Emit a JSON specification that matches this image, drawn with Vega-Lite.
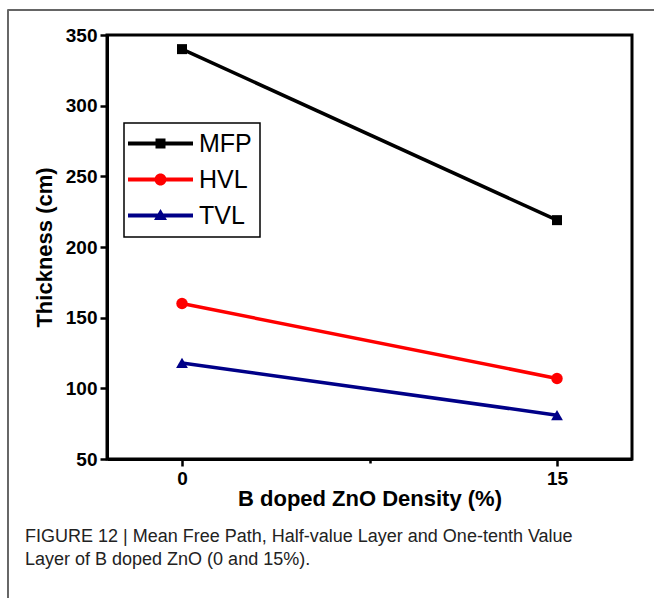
{
  "$schema": "https://vega.github.io/schema/vega-lite/v6.json",
  "autosize": {"type": "none"},
  "width": 525,
  "height": 424,
  "padding": {"left": 107, "top": 35, "right": 22, "bottom": 139},
  "background": "white",
  "title": {
    "text": ["FIGURE 12 | Mean Free Path, Half-value Layer and One-tenth Value", "Layer of B doped ZnO (0 and 15%)."],
    "orient": "bottom",
    "anchor": "start",
    "frame": "group",
    "dx": -82,
    "offset": 0,
    "dy": -73,
    "font": "Liberation Sans",
    "fontSize": 18,
    "fontWeight": "normal",
    "lineHeight": 23,
    "color": "#222222"
  },
  "config": {
    "view": {"stroke": "black", "strokeWidth": 3},
    "axis": {
      "grid": false,
      "domainColor": "black",
      "domainWidth": 3,
      "tickColor": "black",
      "tickWidth": 2.5,
      "labelFont": "Liberation Sans",
      "labelFontWeight": "bold",
      "labelFontSize": 19,
      "labelColor": "black",
      "titleFont": "Liberation Sans",
      "titleFontWeight": "bold",
      "titleFontSize": 22,
      "titleColor": "black"
    },
    "legend": {
      "orient": "none",
      "legendX": 17,
      "legendY": 88,
      "strokeColor": "black",
      "padding": 8,
      "labelFont": "Liberation Sans",
      "labelFontSize": 25,
      "labelColor": "black",
      "labelOffset": 26,
      "symbolOffset": 16,
      "rowPadding": 10,
      "symbolSize": 100
    }
  },
  "data": {
    "values": [
      {"series": "MFP", "x": 0, "y": 340},
      {"series": "MFP", "x": 15, "y": 219},
      {"series": "HVL", "x": 0, "y": 160},
      {"series": "HVL", "x": 15, "y": 107},
      {"series": "TVL", "x": 0, "y": 118},
      {"series": "TVL", "x": 15, "y": 81}
    ]
  },
  "layer": [
    {
      "mark": {"type": "line", "strokeWidth": 3.5},
      "encoding": {
        "x": {
          "field": "x", "type": "quantitative",
          "scale": {"domain": [-3, 18], "nice": false, "zero": false},
          "axis": {
            "title": "B doped ZnO Density (%)",
            "values": [0, 7.5, 15],
            "labelExpr": "datum.value === 7.5 ? '' : datum.label",
            "tickSize": {"condition": {"test": "datum.value === 7.5", "value": 4}, "value": 7},
            "labelPadding": 3,
            "titlePadding": 0
          }
        },
        "y": {
          "field": "y", "type": "quantitative",
          "scale": {"domain": [50, 350], "nice": false, "zero": false},
          "axis": {
            "title": "Thickness (cm)",
            "values": [50, 75, 100, 125, 150, 175, 200, 225, 250, 275, 300, 325, 350],
            "labelExpr": "datum.value % 50 === 0 ? datum.label : ''",
            "tickSize": {"condition": {"test": "datum.value % 50 !== 0", "value": 4}, "value": 7},
            "labelPadding": 3,
            "titlePadding": 9
          }
        },
        "color": {
          "field": "series", "type": "nominal",
          "sort": ["MFP", "HVL", "TVL"],
          "scale": {"domain": ["MFP", "HVL", "TVL"], "range": ["#000000", "#ff0000", "#000088"]},
          "legend": {
            "title": null,
            "encode": {
              "legend": {"update": {"strokeWidth": {"value": 1.5}}},
              "symbols": {
                "update": {
                  "shape": {"signal": "datum.value === 'MFP' ? 'M-6.5,-0.4H6.5V0.4H-6.5Z M-1,-1H1V1H-1Z' : datum.value === 'HVL' ? 'M-6.5,-0.4H6.5V0.4H-6.5Z M-1.2,0A1.2,1.2,0,1,1,1.2,0A1.2,1.2,0,1,1,-1.2,0Z' : 'M-6.5,-0.4H6.5V0.4H-6.5Z M0,-1.3L1.3,0.9H-1.3Z'"},
                  "size": {"value": 100},
                  "fill": {"scale": "color", "field": "value"},
                  "strokeWidth": {"value": 0},
                  "opacity": {"value": 1}
                }
              }
            }
          }
        },
        "detail": {"field": "series"}
      }
    },
    {
      "transform": [{"filter": "datum.series === 'MFP'"}],
      "mark": {"type": "point", "filled": true, "opacity": 1, "shape": "square", "size": 100},
      "encoding": {
        "x": {"field": "x", "type": "quantitative"},
        "y": {"field": "y", "type": "quantitative"},
        "color": {"field": "series", "type": "nominal", "sort": ["MFP", "HVL", "TVL"]}
      }
    },
    {
      "transform": [{"filter": "datum.series === 'HVL'"}],
      "mark": {"type": "point", "filled": true, "opacity": 1, "shape": "circle", "size": 130},
      "encoding": {
        "x": {"field": "x", "type": "quantitative"},
        "y": {"field": "y", "type": "quantitative"},
        "color": {"field": "series", "type": "nominal", "sort": ["MFP", "HVL", "TVL"]}
      }
    },
    {
      "transform": [{"filter": "datum.series === 'TVL'"}],
      "mark": {"type": "point", "filled": true, "opacity": 1, "shape": "triangle-up", "size": 140},
      "encoding": {
        "x": {"field": "x", "type": "quantitative"},
        "y": {"field": "y", "type": "quantitative"},
        "color": {"field": "series", "type": "nominal", "sort": ["MFP", "HVL", "TVL"]}
      }
    },
    {
      "mark": {"type": "rule", "color": "#666666", "strokeWidth": 1.5},
      "encoding": {
        "x": {"datum": -6.97, "type": "quantitative"},
        "x2": {"datum": 19},
        "y": {"datum": 367.7, "type": "quantitative"}
      }
    },
    {
      "mark": {"type": "rule", "color": "#666666", "strokeWidth": 1.5},
      "encoding": {
        "x": {"datum": -6.97, "type": "quantitative"},
        "y": {"datum": 367.7, "type": "quantitative"},
        "y2": {"datum": -50}
      }
    }
  ]
}
